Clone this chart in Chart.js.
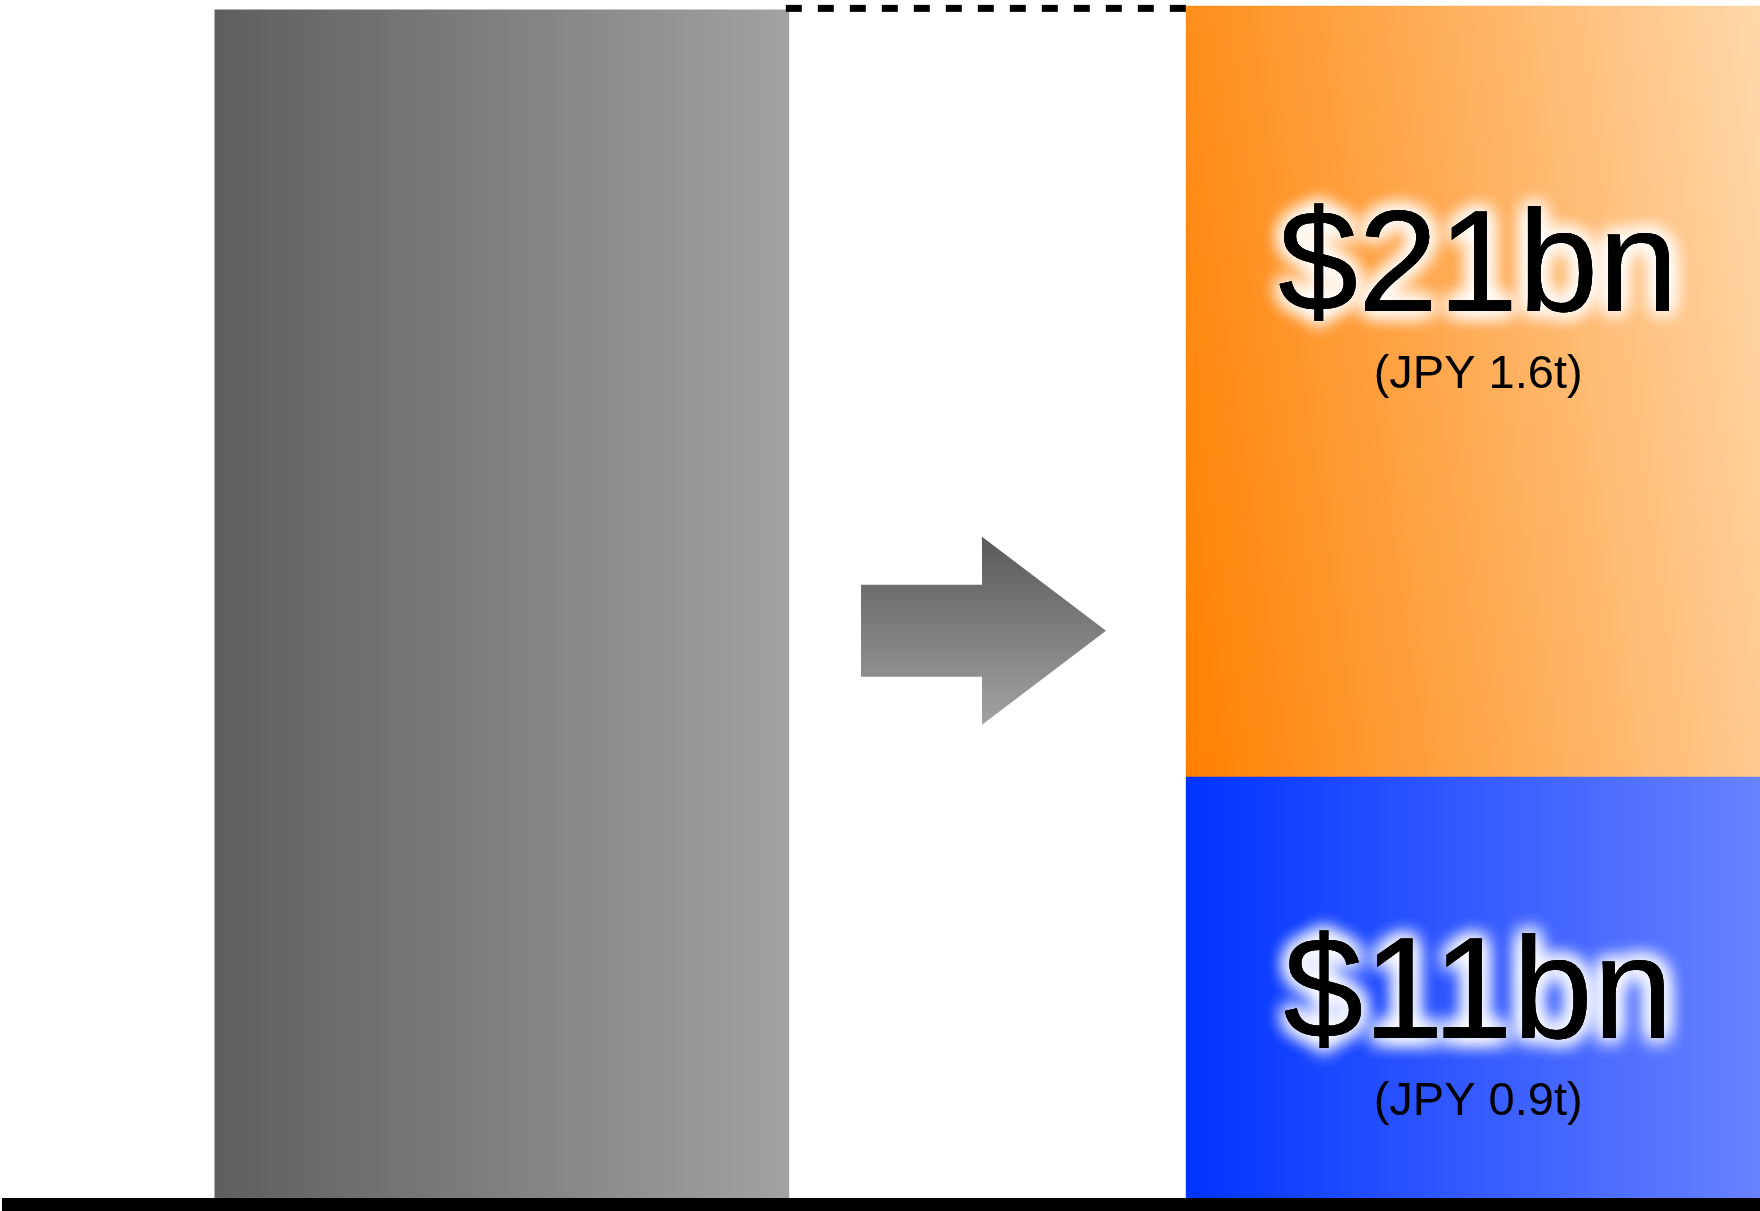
<!DOCTYPE html>
<html lang="en">
<head>
    <meta charset="UTF-8">
    <title>USD 21bn + 11bn</title>
    <script src="https://cdn.jsdelivr.net/npm/chart.js@4.4.1/dist/chart.umd.min.js"></script>
    <style>
        html, body { margin: 0; padding: 0; background: #ffffff; }
        #chart { display: block; }
    </style>
</head>
<body>
    <canvas id="chart" width="1760" height="1211"></canvas>

    <script>
        // Data
        const categories = ['Before', 'Shift', 'After'];
        const oldTotal = [31.9, null, null];
        const newBlue = [null, null, 11.3];
        const newOrange = [null, null, 20.7];
        const usdLabels = ['$11bn', '$21bn'];
        const jpyLabels = ['(JPY 0.9t)', '(JPY 1.6t)'];
        const yMax = 32;

        // Style
        const barWidth = 574;
        const labelFrac = [0.62, 0.395];   // big label baseline, fraction down each segment
        const arrow = { len: 245, shaftHalf: 46, headHalf: 94, headLen: 124, yFrac: 0.525 };

        const decor = {
            id: 'decor',
            beforeDatasetsDraw(chart) {
                const ctx = chart.ctx;
                chart.data.datasets.forEach((ds, i) => {
                    chart.getDatasetMeta(i).data.forEach((el, j) => {
                        if (!el || ds.data[j] == null) return;
                        const L = el.x - el.width / 2, R = el.x + el.width / 2;
                        const top = Math.min(el.y, el.base), bot = Math.max(el.y, el.base);
                        let g;
                        if (ds.key === 'old') {
                            g = ctx.createLinearGradient(L, 0, R, 0);
                            g.addColorStop(0, '#5e5e5e');
                            g.addColorStop(1, '#a2a2a2');
                        } else if (ds.key === 'blue') {
                            g = ctx.createLinearGradient(L, 0, R, 0);
                            g.addColorStop(0, '#0033ff');
                            g.addColorStop(1, '#6882ff');
                        } else {
                            const W = R - L, H = bot - top;
                            g = ctx.createLinearGradient(L, bot, L + 1.36 * W, bot - 0.146 * H);
                            g.addColorStop(0, '#ff8000');
                            g.addColorStop(1, '#ffe6c6');
                        }
                        el.options.backgroundColor = g;
                    });
                });
            },
            afterDatasetsDraw(chart) {
                const ctx = chart.ctx;
                const area = chart.chartArea;
                const xs = chart.scales.x;
                const oldBar = chart.getDatasetMeta(0).data[0];
                const blueBar = chart.getDatasetMeta(1).data[2];
                const orangeBar = chart.getDatasetMeta(2).data[2];

                // dashed connector between the two totals
                ctx.save();
                ctx.strokeStyle = '#000';
                ctx.lineWidth = 7;
                ctx.setLineDash([16, 16]);
                const yDash = (oldBar.y + orangeBar.y) / 2 + 0.5;
                ctx.beginPath();
                ctx.moveTo(oldBar.x + oldBar.width / 2 - 3, yDash);
                ctx.lineTo(orangeBar.x - orangeBar.width / 2, yDash);
                ctx.stroke();
                ctx.restore();

                // arrow in the middle slot
                const cx = xs.getPixelForValue(1) - 4;
                const cy = area.top + arrow.yFrac * (area.bottom - area.top) - 1;
                const x0 = cx - arrow.len / 2, xh = x0 + arrow.len - arrow.headLen, x1 = x0 + arrow.len;
                const ag = ctx.createLinearGradient(0, cy - arrow.headHalf, 0, cy + arrow.headHalf);
                ag.addColorStop(0, '#5a5a5a');
                ag.addColorStop(1, '#a2a2a2');
                ctx.save();
                ctx.fillStyle = ag;
                ctx.beginPath();
                ctx.moveTo(x0, cy - arrow.shaftHalf);
                ctx.lineTo(xh, cy - arrow.shaftHalf);
                ctx.lineTo(xh, cy - arrow.headHalf);
                ctx.lineTo(x1, cy);
                ctx.lineTo(xh, cy + arrow.headHalf);
                ctx.lineTo(xh, cy + arrow.shaftHalf);
                ctx.lineTo(x0, cy + arrow.shaftHalf);
                ctx.closePath();
                ctx.fill();
                ctx.restore();

                // baseline
                ctx.save();
                ctx.fillStyle = '#000';
                ctx.fillRect(2, area.bottom, chart.width - 2, chart.height - area.bottom);
                ctx.restore();

                // segment labels
                [blueBar, orangeBar].forEach((el, i) => {
                    const top = Math.min(el.y, el.base), bot = Math.max(el.y, el.base);
                    const tx = el.x + 5;
                    const ty = top + labelFrac[i] * (bot - top);
                    ctx.save();
                    ctx.textAlign = 'center';
                    ctx.textBaseline = 'alphabetic';
                    ctx.font = '144px "Liberation Sans", Arial, sans-serif';
                    ctx.fillStyle = '#000';
                    ctx.shadowColor = '#ffffff';
                    ctx.shadowBlur = 20;
                    for (let k = 0; k < 4; k++) ctx.fillText(usdLabels[i], tx, ty);
                    ctx.shadowBlur = 0;
                    ctx.shadowColor = 'transparent';
                    ctx.fillText(usdLabels[i], tx, ty);
                    ctx.font = '47px "Liberation Sans", Arial, sans-serif';
                    ctx.fillText(jpyLabels[i], tx, ty + 77);
                    ctx.restore();
                });
            }
        };

        new Chart(document.getElementById('chart'), {
            type: 'bar',
            data: {
                labels: categories,
                datasets: [
                    { key: 'old', data: oldTotal, backgroundColor: '#808080', clip: false },
                    { key: 'blue', data: newBlue, backgroundColor: '#0033ff', clip: false },
                    { key: 'orange', data: newOrange, backgroundColor: '#ff8000', clip: false }
                ]
            },
            options: {
                responsive: false,
                animation: false,
                events: [],
                layout: { padding: { left: 259, right: 44, top: 6, bottom: 13 } },
                barThickness: barWidth,
                plugins: {
                    legend: { display: false },
                    tooltip: { enabled: false }
                },
                scales: {
                    x: { stacked: true, display: false },
                    y: { stacked: true, display: false, min: 0, max: yMax }
                }
            },
            plugins: [decor]
        });
    </script>
</body>
</html>
